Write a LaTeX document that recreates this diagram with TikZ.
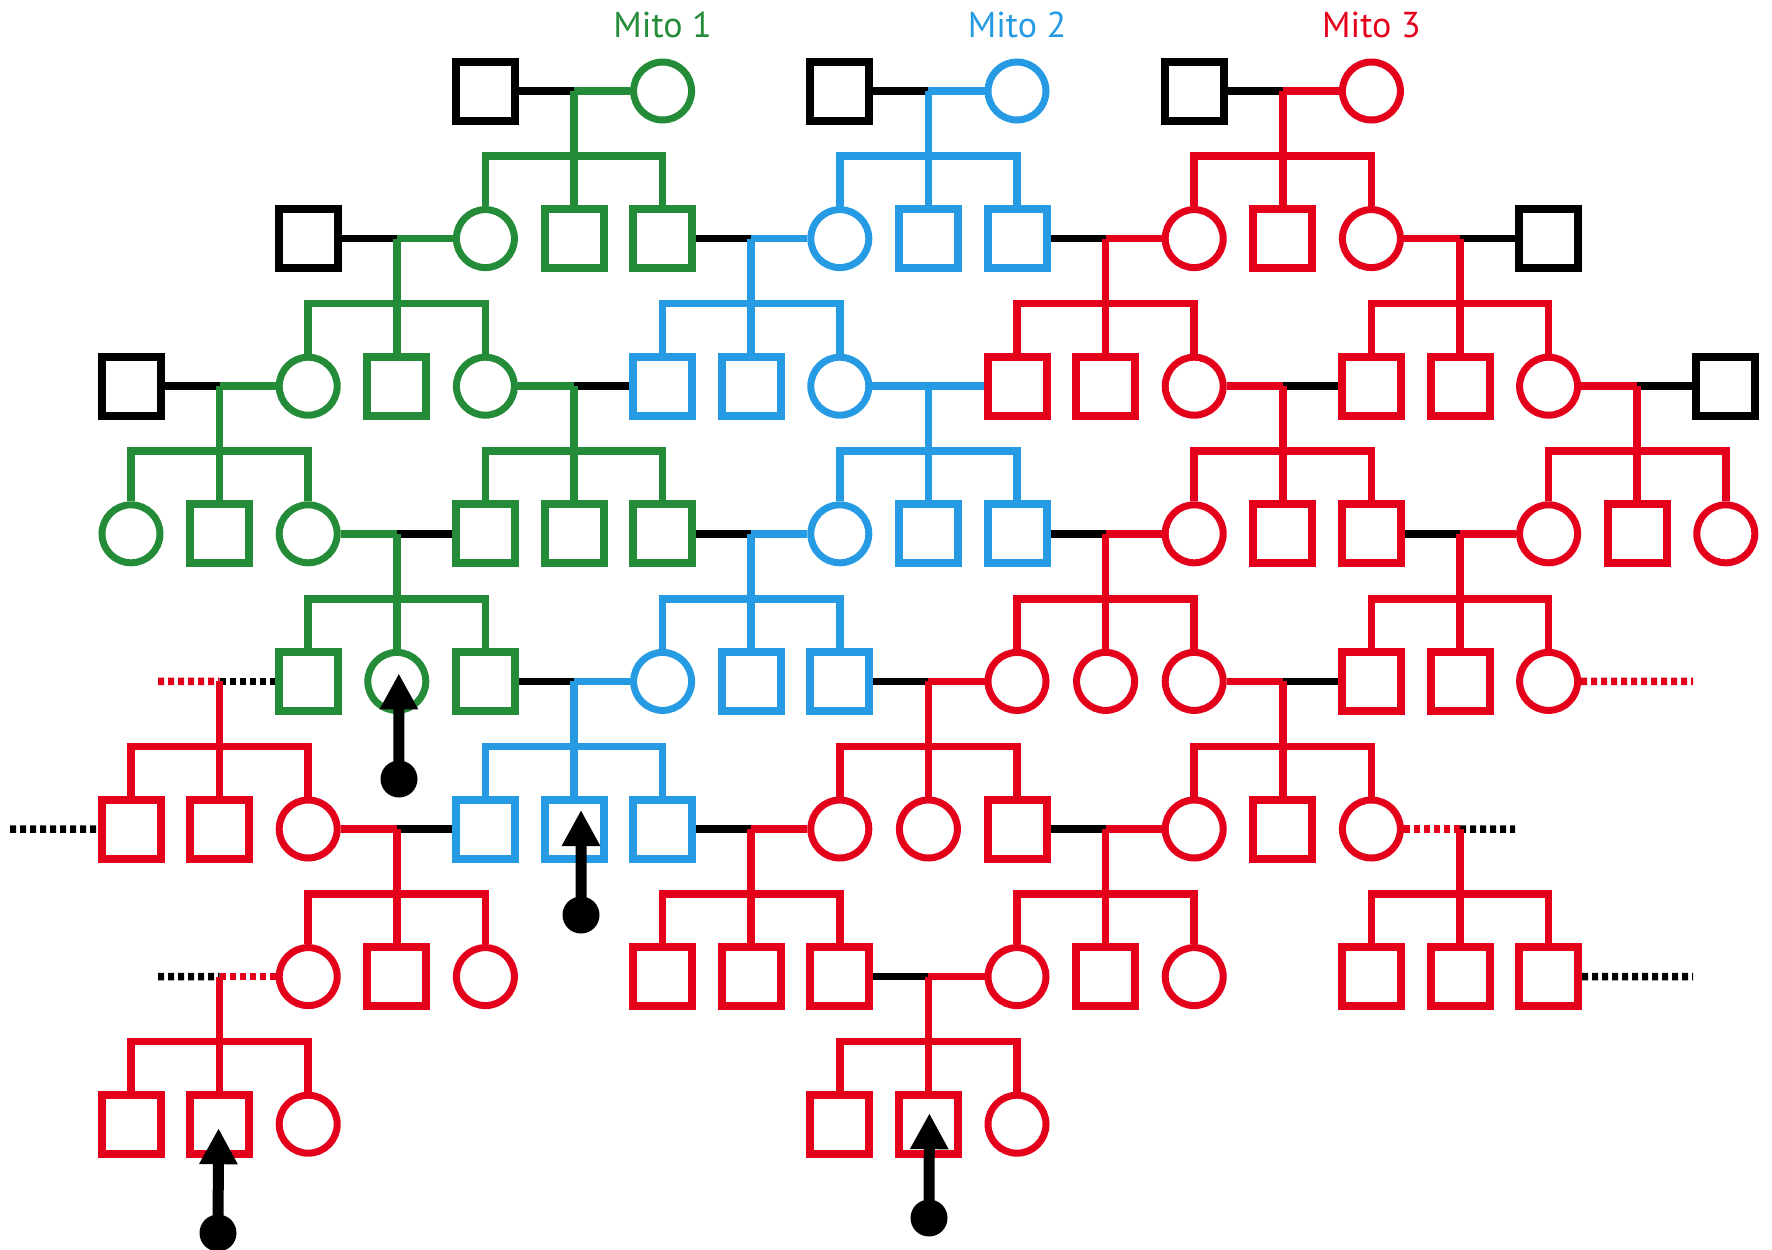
\documentclass[tikz,border=0pt]{standalone}
\usepackage{fontspec}
\newfontfamily\labfont{PT Sans}
\usetikzlibrary{calc,arrows.meta}
\definecolor{mgreen}{RGB}{36,140,56}
\definecolor{mblue}{RGB}{38,155,228}
\definecolor{mred}{RGB}{228,0,27}
\newcommand\SQ[3]{\node[sqr,draw=#3] (n#1r#2) at ({131+88.6*#1},{91+147.6*#2}) {};}
\newcommand\CI[3]{\node[cir,draw=#3] (n#1r#2) at ({131+88.6*#1},{91+147.6*#2}) {};}
\newcommand\FAM[8]{%
  \coordinate (J) at ($(#1)!.5!(#2)$);
  \draw[ln,#3] (#1.east) -- (J);
  \draw[ln,#4] (J) -- (#2.west);
  \draw[ln,#5] (J) -- (#7.north);
  \draw[ln,#5] (#6.north) |- ($(J)+(0,65)$) -| (#8.north);
}
\begin{document}
\begin{tikzpicture}[x=1pt,y=-1pt,
  sqr/.style={rectangle,minimum size=59pt,inner sep=0pt,line width=8pt,fill=white},
  cir/.style={circle,minimum size=58pt,inner sep=0pt,line width=7pt,fill=white},
  ln/.style={line width=7.5pt,line join=miter},
  dln/.style={line width=7.5pt,dash pattern=on 6pt off 4pt},
  dotn/.style={circle,fill=black,minimum size=37pt,inner sep=0pt},
  arr/.style={line width=11pt,-{Triangle[width=36pt,length=36pt]}},
  lab/.style={font=\labfont\fontsize{36}{40}\selectfont,anchor=base,inner sep=0pt}]
\useasboundingbox (0,0) rectangle (1772,1250);

% labels
\node[lab,text=mgreen] (l1) at ({131+88.6*6},37) {Mito 1};
\node[lab,text=mblue]  (l2) at ({131+88.6*10},37) {Mito 2};
\node[lab,text=mred]   (l3) at ({131+88.6*14},37) {Mito 3};

% row 0
\SQ{4}{0}{black} \CI{6}{0}{mgreen} \SQ{8}{0}{black} \CI{10}{0}{mblue} \SQ{12}{0}{black} \CI{14}{0}{mred}
% row 1
\SQ{2}{1}{black} \CI{4}{1}{mgreen} \SQ{5}{1}{mgreen} \SQ{6}{1}{mgreen} \CI{8}{1}{mblue} \SQ{9}{1}{mblue} \SQ{10}{1}{mblue} \CI{12}{1}{mred} \SQ{13}{1}{mred} \CI{14}{1}{mred} \SQ{16}{1}{black}
% row 2
\SQ{0}{2}{black} \CI{2}{2}{mgreen} \SQ{3}{2}{mgreen} \CI{4}{2}{mgreen} \SQ{6}{2}{mblue} \SQ{7}{2}{mblue} \CI{8}{2}{mblue} \SQ{10}{2}{mred} \SQ{11}{2}{mred} \CI{12}{2}{mred} \SQ{14}{2}{mred} \SQ{15}{2}{mred} \CI{16}{2}{mred} \SQ{18}{2}{black}
% row 3
\CI{0}{3}{mgreen} \SQ{1}{3}{mgreen} \CI{2}{3}{mgreen} \SQ{4}{3}{mgreen} \SQ{5}{3}{mgreen} \SQ{6}{3}{mgreen} \CI{8}{3}{mblue} \SQ{9}{3}{mblue} \SQ{10}{3}{mblue} \CI{12}{3}{mred} \SQ{13}{3}{mred} \SQ{14}{3}{mred} \CI{16}{3}{mred} \SQ{17}{3}{mred} \CI{18}{3}{mred}
% row 4
\SQ{2}{4}{mgreen} \CI{3}{4}{mgreen} \SQ{4}{4}{mgreen} \CI{6}{4}{mblue} \SQ{7}{4}{mblue} \SQ{8}{4}{mblue} \CI{10}{4}{mred} \CI{11}{4}{mred} \CI{12}{4}{mred} \SQ{14}{4}{mred} \SQ{15}{4}{mred} \CI{16}{4}{mred}
% row 5
\SQ{0}{5}{mred} \SQ{1}{5}{mred} \CI{2}{5}{mred} \SQ{4}{5}{mblue} \SQ{5}{5}{mblue} \SQ{6}{5}{mblue} \CI{8}{5}{mred} \CI{9}{5}{mred} \SQ{10}{5}{mred} \CI{12}{5}{mred} \SQ{13}{5}{mred} \CI{14}{5}{mred}
% row 6
\CI{2}{6}{mred} \SQ{3}{6}{mred} \CI{4}{6}{mred} \SQ{6}{6}{mred} \SQ{7}{6}{mred} \SQ{8}{6}{mred} \CI{10}{6}{mred} \SQ{11}{6}{mred} \CI{12}{6}{mred} \SQ{14}{6}{mred} \SQ{15}{6}{mred} \SQ{16}{6}{mred}
% row 7
\SQ{0}{7}{mred} \SQ{1}{7}{mred} \CI{2}{7}{mred} \SQ{8}{7}{mred} \SQ{9}{7}{mred} \CI{10}{7}{mred}

% families
\FAM{n4r0}{n6r0}{black}{mgreen}{mgreen}{n4r1}{n5r1}{n6r1}
\FAM{n8r0}{n10r0}{black}{mblue}{mblue}{n8r1}{n9r1}{n10r1}
\FAM{n12r0}{n14r0}{black}{mred}{mred}{n12r1}{n13r1}{n14r1}

\FAM{n2r1}{n4r1}{black}{mgreen}{mgreen}{n2r2}{n3r2}{n4r2}
\FAM{n6r1}{n8r1}{black}{mblue}{mblue}{n6r2}{n7r2}{n8r2}
\FAM{n10r1}{n12r1}{black}{mred}{mred}{n10r2}{n11r2}{n12r2}
\FAM{n14r1}{n16r1}{mred}{black}{mred}{n14r2}{n15r2}{n16r2}

\FAM{n0r2}{n2r2}{black}{mgreen}{mgreen}{n0r3}{n1r3}{n2r3}
\FAM{n4r2}{n6r2}{mgreen}{black}{mgreen}{n4r3}{n5r3}{n6r3}
\FAM{n8r2}{n10r2}{mblue}{mblue}{mblue}{n8r3}{n9r3}{n10r3}
\FAM{n12r2}{n14r2}{mred}{black}{mred}{n12r3}{n13r3}{n14r3}
\FAM{n16r2}{n18r2}{mred}{black}{mred}{n16r3}{n17r3}{n18r3}

\FAM{n2r3}{n4r3}{mgreen}{black}{mgreen}{n2r4}{n3r4}{n4r4}
\FAM{n6r3}{n8r3}{black}{mblue}{mblue}{n6r4}{n7r4}{n8r4}
\FAM{n10r3}{n12r3}{black}{mred}{mred}{n10r4}{n11r4}{n12r4}
\FAM{n14r3}{n16r3}{black}{mred}{mred}{n14r4}{n15r4}{n16r4}

\FAM{n4r4}{n6r4}{black}{mblue}{mblue}{n4r5}{n5r5}{n6r5}
\FAM{n8r4}{n10r4}{black}{mred}{mred}{n8r5}{n9r5}{n10r5}
\FAM{n12r4}{n14r4}{mred}{black}{mred}{n12r5}{n13r5}{n14r5}

\FAM{n2r5}{n4r5}{mred}{black}{mred}{n2r6}{n3r6}{n4r6}
\FAM{n6r5}{n8r5}{black}{mred}{mred}{n6r6}{n7r6}{n8r6}
\FAM{n10r5}{n12r5}{black}{mred}{mred}{n10r6}{n11r6}{n12r6}

\FAM{n8r6}{n10r6}{black}{mred}{mred}{n8r7}{n9r7}{n10r7}

% partial (dotted) families
\coordinate (e4l) at (158,681.4);
\coordinate (J4l) at (n1r5 |- n2r4);
\draw[dln,mred] (e4l) -- (J4l);
\draw[dln,black] (J4l) -- (n2r4.west);
\draw[ln,mred] (J4l) -- (n1r5.north);
\draw[ln,mred] (n0r5.north) |- ($(J4l)+(0,65)$) -| (n2r5.north);

\coordinate (e4r) at (1693,681.4);
\draw[dln,mred] (n16r4.east) -- (e4r);

\coordinate (e5l) at (10,829);
\draw[dln,black] (e5l) -- (n0r5.west);

\coordinate (J5r) at (n15r6 |- n14r5);
\coordinate (e5r) at (1515,829);
\draw[dln,mred] (n14r5.east) -- (J5r);
\draw[dln,black] (J5r) -- (e5r);
\draw[ln,mred] (J5r) -- (n15r6.north);
\draw[ln,mred] (n14r6.north) |- ($(J5r)+(0,65)$) -| (n16r6.north);

\coordinate (e6l) at (158,976.6);
\coordinate (J6l) at (n1r7 |- n2r6);
\draw[dln,black] (e6l) -- (J6l);
\draw[dln,mred] (J6l) -- (n2r6.west);
\draw[ln,mred] (J6l) -- (n1r7.north);
\draw[ln,mred] (n0r7.north) |- ($(J6l)+(0,65)$) -| (n2r7.north);

\coordinate (e6r) at (1693,976.6);
\draw[dln,black] (n16r6.east) -- (e6r);

% arrows
\node[dotn] (d1) at (399,779) {};
\coordinate (t1) at ($(n3r4)+(2,-8)$);
\draw[arr] (d1.center) -- (t1);
\node[dotn] (d2) at (581,915) {};
\coordinate (t2) at ($(n5r5)+(7,-19)$);
\draw[arr] (d2.center) -- (t2);
\node[dotn] (d3) at (218,1233) {};
\coordinate (t3) at ($(n1r7)+(-1,4)$);
\draw[arr] (d3.center) -- (t3);
\node[dotn] (d4) at (929,1218) {};
\coordinate (t4) at ($(n9r7)+(1,-11)$);
\draw[arr] (d4.center) -- (t4);
\end{tikzpicture}
\end{document}
